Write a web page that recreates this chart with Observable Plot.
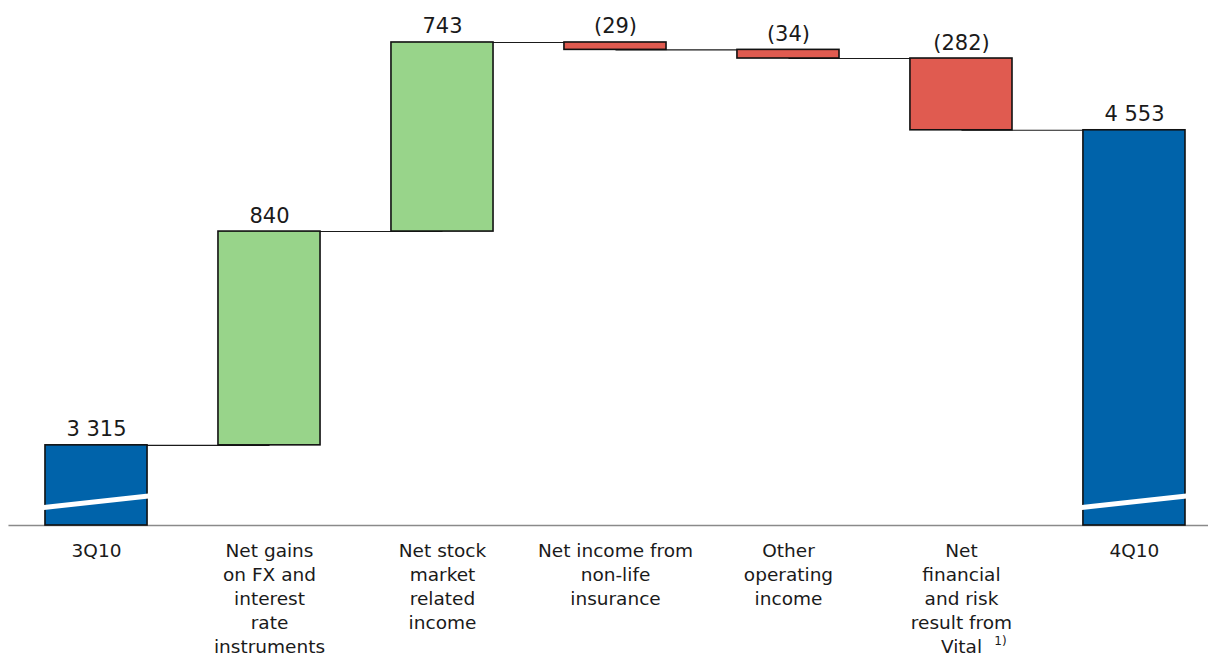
<!DOCTYPE html>
<html>
<head>
<meta charset="utf-8">
<script src="https://cdn.jsdelivr.net/npm/d3@7"></script>
<script src="https://cdn.jsdelivr.net/npm/@observablehq/plot@0.6"></script>
<style>
  html, body { margin: 0; padding: 0; background: #fff; }
  #chart svg { display: block; }
</style>
</head>
<body>
<div id="chart"></div>
<script>
// Operating income bridge, 3Q10 to 4Q10 (SEK m)
const categories = [
  "3Q10",
  "Net gains\non FX and\ninterest\nrate\ninstruments",
  "Net stock\nmarket\nrelated\nincome",
  "Net income from\nnon-life\ninsurance",
  "Other\noperating\nincome",
  "Net\nfinancial\nand risk\nresult from\nVital",
  "4Q10"
];
const values = [3315, 840, 743, -29, -34, -282, 4553];
const kinds = ["total", "change", "change", "change", "change", "change", "total"];
const footnotes = [{index: 5, text: "1)"}];
// the value axis is cut: bars start from this value at the baseline
const axisBreak = 3000;
const breakMarks = [0, 6];

const colors = {total: "#0063AA", up: "#98D48A", down: "#E05B50"};

// running totals for the waterfall
let running = 0;
const steps = values.map((v, i) => {
  const kind = kinds[i];
  let y1, y2;
  if (kind === "total") { y1 = axisBreak; y2 = v; running = v; }
  else { y1 = running; y2 = running + v; running = y2; }
  const fill = kind === "total" ? colors.total : (v >= 0 ? colors.up : colors.down);
  return {i, category: categories[i], value: v, kind, y1, y2, top: Math.max(y1, y2), level: running, fill};
});
const connectors = steps.slice(0, -1).map(d => ({x1: d.i, x2: d.i + 1, y: d.level}));

// thousands separated by a space, negatives in parentheses
const fmt = v => {
  const s = d3.format(",")(Math.abs(v)).replace(/,/g, " ");
  return v < 0 ? `(${s})` : s;
};

const half = 0.295;
const chart = Plot.plot({
  width: 1208,
  height: 656,
  marginTop: 0,
  marginBottom: 131,
  marginLeft: 0,
  marginRight: 0,
  style: {fontFamily: "'DejaVu Sans', Verdana, sans-serif", color: "#1a1a1a", background: "#fff"},
  x: {domain: [-0.555, 6.428], axis: null},
  y: {domain: [axisBreak, 5063], axis: null},
  marks: [
    // connector lines between consecutive bars
    Plot.link(connectors, {x1: "x1", x2: "x2", y1: "y", y2: "y", stroke: "#1a1a1a", strokeWidth: 1.1}),
    // baseline
    Plot.link([{x1: -0.509, x2: 6.428, y: axisBreak}], {x1: "x1", x2: "x2", y1: "y", y2: "y", stroke: "#8a8a8a", strokeWidth: 1.6}),
    // bars
    Plot.rect(steps, {
      x1: d => d.i - half, x2: d => d.i + half,
      y1: "y1", y2: "y2",
      fill: "fill", stroke: "#111", strokeWidth: 1.6
    }),
    // axis-break marks on the total bars
    Plot.link(breakMarks, {
      x1: i => i - 0.37, x2: i => i + 0.42,
      y1: () => axisBreak + 66, y2: () => axisBreak + 125,
      stroke: "#fff", strokeWidth: 5
    }),
    // value labels
    Plot.text(steps, {
      x: "i", y: "top", text: d => fmt(d.value),
      lineAnchor: "bottom", dy: -9, fontSize: 21, letterSpacing: "0.5px", fill: "#1a1a1a"
    }),
    // category labels
    Plot.text(steps, {
      x: "i", y: () => axisBreak, text: "category",
      lineAnchor: "top", dy: 14, fontSize: 18.5, letterSpacing: "0.4px", lineHeight: 1.3, fill: "#1a1a1a"
    }),
    Plot.text(footnotes, {
      x: "index", y: () => axisBreak, text: "text",
      lineAnchor: "middle", dx: 39, dy: 116, fontSize: 12, fill: "#1a1a1a"
    })
  ]
});
document.getElementById("chart").append(chart);
</script>
</body>
</html>
